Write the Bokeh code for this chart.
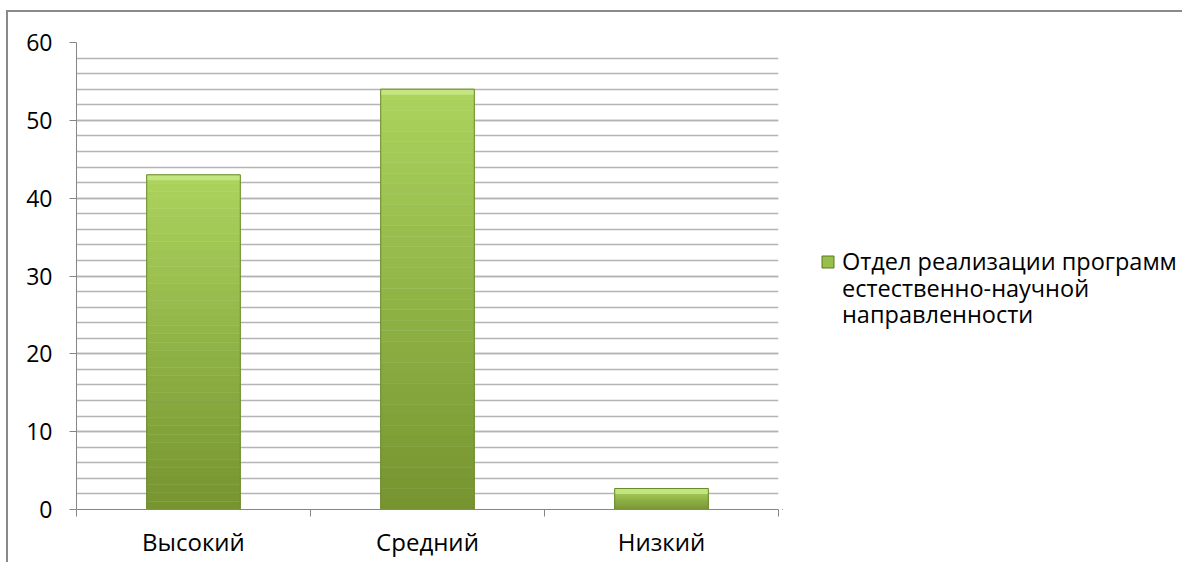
from bokeh.plotting import figure
from bokeh.layouts import row
from bokeh.models import FixedTicker, Range1d, Legend, LegendItem, ColumnDataSource
from bokeh.embed import file_html
from bokeh.resources import INLINE

categories = ["Высокий", "Средний", "Низкий"]
values = [43, 54, 2.7]
y_ticks = [0, 10, 20, 30, 40, 50, 60]
y_minor = list(range(0, 61, 2))
legend_lines = ["Отдел реализации программ", "естественно-научной", "направленности"]

FONT = "Open Sans"
FS_Y = "23px"
FS_X = "24px"
FS_L = "23.5px"
AXIS_C = "#868686"
GRID_C = "#b4b4b4"

p = figure(width=774, height=550, output_backend="svg", toolbar_location=None,
           x_range=Range1d(0, len(categories)), y_range=Range1d(0, 60),
           min_border_left=68, min_border_top=30, min_border_right=4, min_border_bottom=53)
p.outline_line_color = None
p.background_fill_color = "white"
p.border_fill_color = "white"

xs = [i + 0.5 for i in range(len(categories))]

# gradient bars built from slices
N = 40
top_c = (172, 212, 94)
bot_c = (118, 148, 48)
sx, sb, st, sc = [], [], [], []
for x, v in zip(xs, values):
    for k in range(N):
        b = v * k / N
        t = v * (k + 1) / N
        f = (k + 0.5) / N
        col = tuple(int(bot_c[j] + (top_c[j] - bot_c[j]) * f) for j in range(3))
        sx.append(x); sb.append(b); st.append(t)
        sc.append("#%02x%02x%02x" % col)
p.vbar(x=sx, bottom=sb, top=st, width=0.4, fill_color=sc, line_color=sc, line_width=0.5)
# top highlight bevel
hx, hb, ht = [], [], []
for x, v in zip(xs, values):
    hx.append(x); hb.append(max(v - 0.7, 0)); ht.append(v)
p.vbar(x=hx, bottom=hb, top=ht, width=0.4, fill_color="#c6e886", line_color=None, fill_alpha=0.9)
# outline
p.vbar(x=xs, top=values, width=0.4, fill_alpha=0, line_color="#6a8a2c", line_width=1)

# grid
p.xgrid.visible = False
p.ygrid.ticker = FixedTicker(ticks=y_ticks, minor_ticks=y_minor)
p.ygrid.grid_line_color = GRID_C
p.ygrid.grid_line_width = 1.5
p.ygrid.minor_grid_line_color = GRID_C
p.ygrid.minor_grid_line_width = 1.5

# y axis
ya = p.yaxis[0]
ya.ticker = FixedTicker(ticks=y_ticks)
ya.axis_line_color = AXIS_C
ya.major_tick_line_color = AXIS_C
ya.major_tick_out = 7
ya.major_tick_in = 0
ya.minor_tick_line_color = None
ya.major_label_standoff = 17
ya.major_label_text_font = FONT
ya.major_label_text_font_size = FS_Y
ya.major_label_text_color = "#000000"

# x axis
xa = p.xaxis[0]
xa.ticker = FixedTicker(ticks=xs, minor_ticks=list(range(len(categories) + 1)))
xa.major_label_overrides = {x: c for x, c in zip(xs, categories)}
xa.axis_line_color = AXIS_C
xa.major_tick_line_color = None
xa.minor_tick_line_color = AXIS_C
xa.minor_tick_out = 7
xa.minor_tick_in = 0
xa.major_label_standoff = 8
xa.major_label_text_font = FONT
xa.major_label_text_font_size = FS_X
xa.major_label_text_color = "#000000"

# legend panel (separate figure, no axes); its series renderer lies outside the view
q = figure(width=400, height=550, output_backend="svg", toolbar_location=None,
           x_range=Range1d(10, 11), y_range=Range1d(200, 201),
           x_axis_type=None, y_axis_type=None,
           min_border_left=0, min_border_top=0, min_border_right=0, min_border_bottom=0)
q.outline_line_color = None
q.xgrid.visible = False
q.ygrid.visible = False
q.background_fill_color = "white"
q.border_fill_color = "white"

r1 = q.vbar(x=xs, top=values, width=0.4, fill_color="#98bf4a", line_color="#5a7a22", line_width=1)
empty = ColumnDataSource(dict(x=[], top=[]))
r_blank = q.vbar(x="x", top="top", width=0.4, source=empty, fill_alpha=0, line_alpha=0)

legend_y = [232, 205.5, 179]
for i, (txt, ly) in enumerate(zip(legend_lines, legend_y)):
    lg = Legend(items=[LegendItem(label=txt, renderers=[r1 if i == 0 else r_blank])],
                location=(38, ly), padding=0, margin=0, spacing=0,
                label_height=20, glyph_height=15, glyph_width=15, label_standoff=7,
                border_line_color=None, background_fill_alpha=0,
                label_text_font=FONT, label_text_font_size=FS_L, label_text_color="#000000")
    q.add_layout(lg, "center")

layout = row(p, q)
layout.margin = (10, 0, 0, 6)
layout.styles = {"border-top": "2px solid #8a8a8a", "border-left": "2px solid #8a8a8a"}

open("out.html", "w").write(file_html(layout, INLINE))
